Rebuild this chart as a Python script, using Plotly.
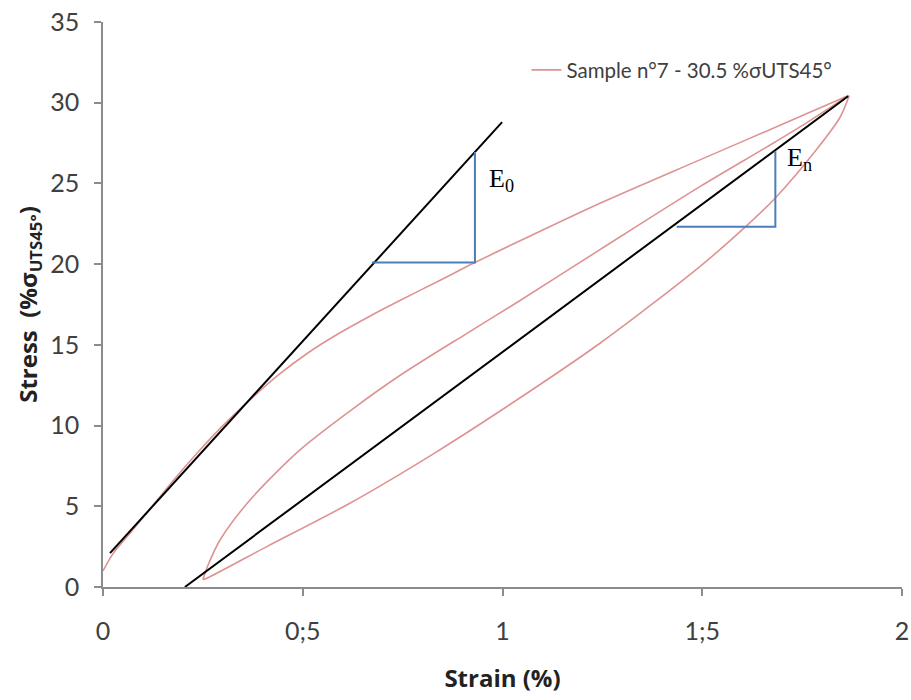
import plotly.graph_objects as go

# Hysteresis loop (sample n°7): loading branch, unloading branch, reloading branch
loading_strain = [0.0, 0.026, 0.068, 0.11, 0.176, 0.243, 0.30, 0.368, 0.44, 0.51, 0.59, 0.677, 0.743, 0.844, 0.927, 1.019, 1.244, 1.494, 1.745, 1.866]
loading_stress = [1.0, 2.1, 3.35, 4.6, 6.6, 8.5, 10.0, 11.6, 13.15, 14.45, 15.7, 16.9, 17.75, 19.0, 20.05, 21.15, 23.77, 26.46, 29.14, 30.45]

unloading_strain = [1.868, 1.845, 1.786, 1.683, 1.61, 1.494, 1.244, 0.994, 0.827, 0.618, 0.41, 0.268, 0.25]
unloading_stress = [30.45, 29.1, 27.1, 24.1, 22.35, 19.85, 15.1, 10.9, 8.25, 5.19, 2.5, 0.64, 0.45]

reloading_strain = [0.25, 0.262, 0.293, 0.368, 0.493, 0.618, 0.743, 0.91, 1.044, 1.244, 1.494, 1.661, 1.761, 1.866]
reloading_stress = [0.45, 1.3, 2.91, 5.39, 8.49, 10.9, 13.1, 15.7, 17.75, 20.9, 24.8, 27.25, 28.75, 30.45]

# Tangent lines (moduli)
e0_line_strain = [0.0175, 0.999]
e0_line_stress = [2.1, 28.8]
en_line_strain = [0.205, 1.865]
en_line_stress = [0.0, 30.4]

# Slope triangles
e0_tri_strain = [0.673, 0.931, 0.931]
e0_tri_stress = [20.1, 20.1, 26.95]
en_tri_strain = [1.436, 1.683, 1.683]
en_tri_stress = [22.32, 22.32, 27.0]

x_tickvals = [0, 0.5, 1, 1.5, 2]
x_ticktext = ["0", "0;5", "1", "1;5", "2"]
y_tickvals = [0, 5, 10, 15, 20, 25, 30, 35]

series_name = "Sample n°7 - 30.5 %σUTS45°"
pink = "#de9393"

fig = go.Figure()
branches = [(loading_strain, loading_stress, True),
            (unloading_strain, unloading_stress, False),
            (reloading_strain, reloading_stress, False)]
for xs, ys, show in branches:
    fig.add_trace(go.Scatter(x=xs, y=ys, mode="lines", name=series_name, legendgroup="s7",
                             showlegend=show,
                             line=dict(color=pink, width=1.6, shape="spline", smoothing=0.8)))
fig.add_trace(go.Scatter(x=e0_line_strain, y=e0_line_stress, mode="lines", showlegend=False,
                         line=dict(color="black", width=2)))
fig.add_trace(go.Scatter(x=en_line_strain, y=en_line_stress, mode="lines", showlegend=False,
                         line=dict(color="black", width=2)))
fig.add_trace(go.Scatter(x=e0_tri_strain, y=e0_tri_stress, mode="lines", showlegend=False,
                         line=dict(color="#4a7ebb", width=2)))
fig.add_trace(go.Scatter(x=en_tri_strain, y=en_tri_stress, mode="lines", showlegend=False,
                         line=dict(color="#4a7ebb", width=2)))

fig.add_annotation(x=0.962, y=25.2, xref="x", yref="y", text="E<sub>0</sub>", showarrow=False,
                   xanchor="left", yanchor="middle",
                   font=dict(family="Liberation Serif", size=26, color="black"))
fig.add_annotation(x=1.708, y=26.5, xref="x", yref="y", text="E<sub>n</sub>", showarrow=False,
                   xanchor="left", yanchor="middle",
                   font=dict(family="Liberation Serif", size=26, color="black"))

axis_common = dict(showgrid=False, zeroline=False, showline=True, linecolor="#8c8c8c", linewidth=1.5,
                   ticks="outside", ticklen=7, tickcolor="#8c8c8c", tickwidth=1.5, automargin=False,
                   ticklabeloverflow="allow",
                   tickfont=dict(family="Lato", size=25, color="#404040"))

fig.update_xaxes(range=[0, 2], tickvals=x_tickvals, ticktext=x_ticktext, ticklabelstandoff=14,
                 title=dict(text="<b>Strain (%)</b>", font=dict(family="Open Sans", size=24, color="#222"), standoff=26),
                 **axis_common)
fig.update_yaxes(range=[0, 35], tickvals=y_tickvals, ticklabelstandoff=10,
                 title=dict(text="<b>Stress  (%σ<sub>UTS45°</sub>)</b>",
                            font=dict(family="Open Sans", size=24, color="#222"), standoff=6),
                 **axis_common)

fig.update_layout(
    width=911, height=700,
    margin=dict(l=103, r=9, t=22, b=113),
    plot_bgcolor="white", paper_bgcolor="white",
    legend=dict(x=0.53, y=0.915, xanchor="left", yanchor="middle", bgcolor="rgba(0,0,0,0)",
                font=dict(family="Lato", size=20.5, color="#404040")),
    showlegend=True,
)

# remove the browser's default 8px page margin so the figure fills the 911x700 window
fig.write_html("out.html", config={"displayModeBar": False},
               post_script="document.body.style.margin='0';document.body.style.overflow='hidden';")
